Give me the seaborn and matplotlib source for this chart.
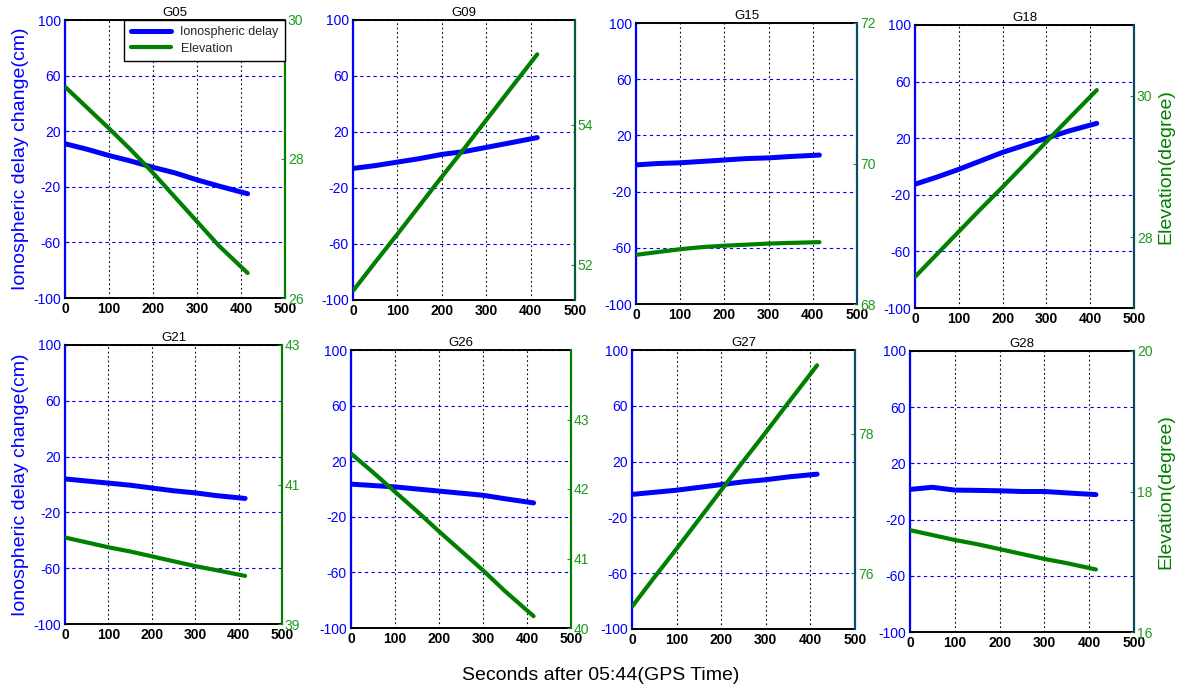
import matplotlib
matplotlib.use("Agg")
import matplotlib.pyplot as plt
import pandas as pd
import seaborn as sns

# ---------------- data ----------------
satellites = ["G05", "G09", "G15", "G18", "G21", "G26", "G27", "G28"]
t_sec = [0, 50, 100, 150, 200, 250, 300, 350, 415]

iono_G05 = [11, 7, 2.5, -1.5, -6, -10, -15, -19.5, -25]
iono_G09 = [-6, -4, -1.5, 1, 4, 6, 9, 12, 16]
iono_G15 = [-1, 0, 0.5, 1.5, 2.5, 3.5, 4, 5, 6]
iono_G18 = [-12.5, -7.5, -2, 4, 10, 15, 20, 25, 30.5]
iono_G21 = [4, 2.5, 1, -0.5, -2.5, -4.5, -6, -8, -10]
iono_G26 = [3.5, 2.5, 1.5, 0, -1.5, -3, -4.5, -7, -10]
iono_G27 = [-3.5, -2, -0.5, 1.5, 3.5, 5.5, 7, 9, 11]
iono_G28 = [1.5, 3, 1, 0.8, 0.5, 0, 0, -1, -2.2]

elev_G05 = [29.04, 28.74, 28.44, 28.13, 27.80, 27.45, 27.10, 26.75, 26.36]
elev_G09 = [51.63, 52.04, 52.44, 52.85, 53.26, 53.66, 54.07, 54.48, 55.01]
elev_G15 = [68.70, 68.74, 68.78, 68.81, 68.83, 68.845, 68.86, 68.87, 68.88]
elev_G18 = [27.44, 27.76, 28.08, 28.40, 28.71, 29.03, 29.35, 29.67, 30.08]
elev_G21 = [40.24, 40.17, 40.10, 40.04, 39.97, 39.90, 39.83, 39.77, 39.69]
elev_G26 = [42.51, 42.24, 41.96, 41.68, 41.39, 41.11, 40.83, 40.53, 40.17]
elev_G27 = [75.52, 75.94, 76.35, 76.77, 77.19, 77.61, 78.02, 78.44, 78.98]
elev_G28 = [17.45, 17.38, 17.31, 17.25, 17.18, 17.11, 17.04, 16.98, 16.89]

iono = dict(zip(satellites, [iono_G05, iono_G09, iono_G15, iono_G18,
                             iono_G21, iono_G26, iono_G27, iono_G28]))
elev = dict(zip(satellites, [elev_G05, elev_G09, elev_G15, elev_G18,
                             elev_G21, elev_G26, elev_G27, elev_G28]))

# right (elevation) axis limits and ticks
elev_lim = {"G05": (26, 30), "G09": (51.5, 55.5), "G15": (68, 72), "G18": (27, 31),
            "G21": (39, 43), "G26": (40, 44), "G27": (75.2, 79.2), "G28": (16, 20)}
elev_ticks = {"G05": [26, 28, 30], "G09": [52, 54], "G15": [68, 70, 72], "G18": [28, 30],
              "G21": [39, 41, 43], "G26": [40, 41, 42, 43], "G27": [76, 78], "G28": [16, 18, 20]}

iono_ticks = [-100, -60, -20, 20, 60, 100]
x_ticks = [0, 100, 200, 300, 400, 500]

# ---------------- style ----------------
sns.set_style("white")
plt.rcParams["font.family"] = ["Liberation Sans", "DejaVu Sans"]
plt.rcParams["axes.unicode_minus"] = False

BLUE = "#0000FF"
GREEN = "#008000"
GREEN_TXT = "#1E9A1E"

W, H = 1179, 690
fig = plt.figure(figsize=(W / 100, H / 100), dpi=100)

# axes boxes in pixels (left, top, right, bottom)
boxes = {
    "G05": (65, 20, 285, 298), "G09": (353, 20, 575, 300),
    "G15": (636, 23, 857, 304), "G18": (915, 25, 1134, 308),
    "G21": (65, 345, 282, 624), "G26": (351, 350, 571, 628),
    "G27": (632, 350, 855, 629), "G28": (910, 351, 1134, 632),
}
right_spine = {"G05": GREEN, "G09": "#0a5a3a", "G15": "#0a4a6a", "G18": "#0b4a5a",
               "G21": GREEN, "G26": GREEN, "G27": "#0a4a6a", "G28": "#0b4a5a"}

for name in satellites:
    l, t, r, b = boxes[name]
    ax = fig.add_axes([l / W, 1 - b / H, (r - l) / W, (b - t) / H])
    ax2 = ax.twinx()
    df = pd.DataFrame({"t": t_sec, "iono": iono[name], "elev": elev[name]})

    sns.lineplot(data=df, x="t", y="iono", ax=ax, color=BLUE, linewidth=3.6,
                 label="Ionospheric delay", legend=False)
    sns.lineplot(data=df, x="t", y="elev", ax=ax2, color=GREEN, linewidth=3.0,
                 label="Elevation", legend=False)

    ax.set_xlim(0, 500)
    ax.set_ylim(-100, 100)
    ax.set_xticks(x_ticks)
    ax.set_yticks(iono_ticks)
    ax2.set_ylim(*elev_lim[name])
    ax2.set_yticks(elev_ticks[name])

    ax.grid(False)
    ax2.grid(False)
    ax.xaxis.grid(True, color="black", linestyle=(0, (1.5, 2.5)), linewidth=0.8)
    ax.yaxis.grid(True, color=BLUE, linestyle=(0, (3, 3)), linewidth=0.8)

    ax.set_xlabel("")
    ax.set_ylabel("")
    ax2.set_ylabel("")

    ax.tick_params(axis="x", colors="black", direction="in", length=3, pad=3,
                   labelsize=10)
    for lab in ax.get_xticklabels():
        lab.set_fontweight("bold")
    ax.tick_params(axis="y", colors=BLUE, direction="in", length=3, pad=3, labelsize=10)
    ax2.tick_params(axis="y", colors=GREEN_TXT, direction="in", length=3, pad=2,
                    labelsize=10)

    for side in ["top", "bottom"]:
        ax.spines[side].set_color("black")
        ax.spines[side].set_linewidth(1.4)
        ax2.spines[side].set_visible(False)
    ax.spines["left"].set_color(BLUE)
    ax.spines["left"].set_linewidth(1.6)
    ax.spines["right"].set_visible(False)
    ax2.spines["left"].set_visible(False)
    ax2.spines["right"].set_color(right_spine[name])
    ax2.spines["right"].set_linewidth(1.6)

    ax.set_title(name, fontsize=9.5, pad=3, color="black")

    if name in ("G05", "G21"):
        ax.set_ylabel("Ionospheric delay change(cm)", color=BLUE, fontsize=14)
        ax.yaxis.set_label_coords(-0.165, 0.5)
    if name in ("G18", "G28"):
        ax2.set_ylabel("Elevation(degree)", color=GREEN, fontsize=14)
        ax2.yaxis.set_label_coords(1.105, 0.5)

    if name == "G05":
        handles = [ax.lines[0], ax2.lines[0]]
        leg = ax2.legend(handles, ["Ionospheric delay", "Elevation"], loc="upper right",
                         bbox_to_anchor=(1.0, 1.0), borderaxespad=0, fontsize=9,
                         frameon=True, fancybox=False, framealpha=1, edgecolor="black",
                         handlelength=3.2, borderpad=0.5, labelspacing=0.35)
        leg.get_frame().set_linewidth(1.0)

fig.text(601 / W, 1 - 676 / H, "Seconds after 05:44(GPS Time)", ha="center",
         va="center", fontsize=14, color="black")

fig.savefig("out.png", dpi=100)
